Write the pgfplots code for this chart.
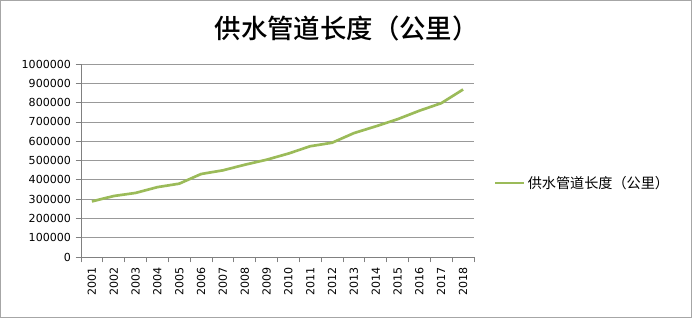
\documentclass[border=0pt]{standalone}
\usepackage{pgfplots}
\pgfplotsset{compat=1.18}
\usepackage{fontspec}
\setmainfont{DejaVu Sans}
\newfontfamily\cjk{Noto Sans CJK SC}
\newfontfamily\cjkm{Noto Sans CJK SC Medium}
\definecolor{lgreen}{RGB}{155,187,89}
\begin{document}
\begin{tikzpicture}
\useasboundingbox (0,0) rectangle (519pt,238.5pt);
\draw[gray!70, line width=0.8pt] (0.4pt,0.4pt) rectangle (518.6pt,238.1pt);
\node[font=\cjkm\fontsize{19.8}{22}\selectfont] at (260pt,217pt) {供水管道长度（公里）};
\begin{axis}[
  at={(60.75pt,45.75pt)}, anchor=south west,
  scale only axis, width=294.75pt, height=144.75pt,
  xmin=2000.5, xmax=2018.5, ymin=0, ymax=1000000,
  xtick={2001,...,2018}, major x tick style={draw=none},
  minor xtick={2000.5,2001.5,...,2018.5},
  minor x tick style={gray, line width=0.6pt},
  minor tick length=4pt,
  xticklabel style={rotate=90, anchor=east, font=\fontsize{8.3}{10}\selectfont},
  ytick={0,100000,...,1000000},
  yticklabel style={font=\fontsize{8.3}{10}\selectfont},
  scaled y ticks=false,
  /pgf/number format/fixed, /pgf/number format/1000 sep={},
  /pgf/number format/assume math mode=true,
  xticklabel={\pgfmathprintnumber[1000 sep={},fixed]{\tick}},
  axis x line*=bottom, axis y line*=left,
  axis line style={gray, line width=0.6pt, -},
  major y tick style={gray, line width=0.6pt},
  major tick length=4pt,
  tick align=outside,
  ymajorgrids, grid style={gray!80, line width=0.6pt},
  legend style={at={(rel axis cs:1.04,0.383)}, anchor=west, draw=none, fill=none, font=\cjk\fontsize{10.6}{12}\selectfont, legend cell align=left},
  legend image code/.code={\draw[#1] (0cm,0cm) -- (0.75cm,0cm);},
]
\addplot[lgreen, line width=2pt] coordinates {
(2001,288000) (2002,316000) (2003,332000) (2004,362000) (2005,380000)
(2006,430000) (2007,449000) (2008,478000) (2009,504000) (2010,536000)
(2011,574000) (2012,592000) (2013,642000) (2014,677000) (2015,714000)
(2016,758000) (2017,797000) (2018,868000)};
\addlegendentry{供水管道长度（公里）}
\end{axis}
\end{tikzpicture}
\end{document}
